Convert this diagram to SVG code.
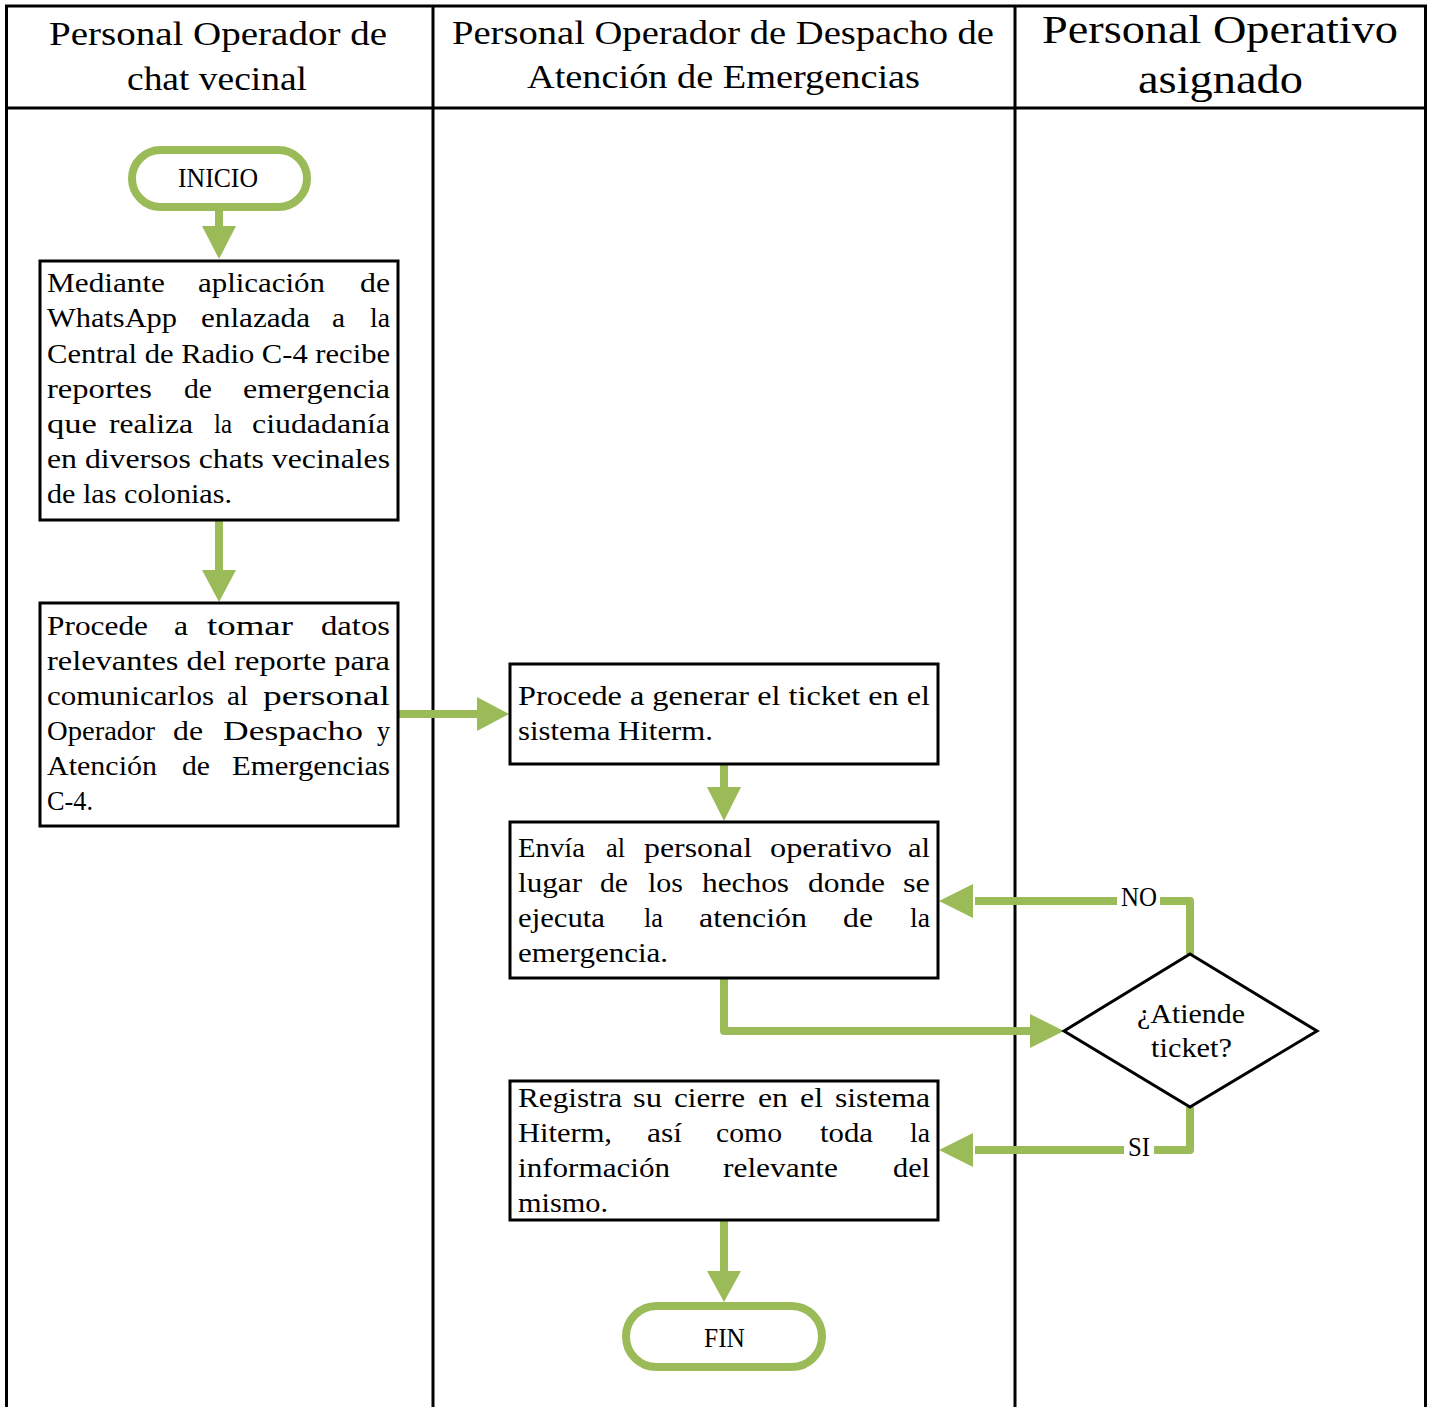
<svg xmlns="http://www.w3.org/2000/svg" width="1435" height="1407" viewBox="0 0 1435 1407">
  <style>
    .lane { fill: none; stroke: #000; stroke-width: 3; }
    .box { fill: #fff; stroke: #000; stroke-width: 3; }
    .term { fill: #fff; stroke: #9BBB59; stroke-width: 8; }
    .dec { fill: #fff; stroke: #000; stroke-width: 3; stroke-linejoin: miter; }
    .flow { fill: none; stroke: #9BBB59; stroke-width: 8; stroke-linejoin: round; }
    .head { fill: #9BBB59; }
    text { font-family: "Liberation Serif", "DejaVu Serif", serif; fill: #000; }
    .hd { font-size: 33px; }
    .hd3 { font-size: 41px; }
    .t { font-size: 28px; }
  </style>

  <rect width="1435" height="1407" fill="#fff"/>

  <!-- swimlane frame -->
  <g id="lanes">
    <path class="lane" d="M6.5,1407 V6 H1425.5 V1407 M6.5,108 H1425.5 M433,6 V1407 M1015,6 V1407"/>
    <text class="hd" x="49" y="45" textLength="338" lengthAdjust="spacingAndGlyphs">Personal Operador de</text>
    <text class="hd" x="127" y="90" textLength="180" lengthAdjust="spacingAndGlyphs">chat vecinal</text>
    <text class="hd" x="452" y="44" textLength="542" lengthAdjust="spacingAndGlyphs">Personal Operador de Despacho de</text>
    <text class="hd" x="527" y="88" textLength="393" lengthAdjust="spacingAndGlyphs">Atención de Emergencias</text>
    <text class="hd3" x="1042" y="43" textLength="356" lengthAdjust="spacingAndGlyphs">Personal Operativo</text>
    <text class="hd3" x="1138" y="93" textLength="165" lengthAdjust="spacingAndGlyphs">asignado</text>
  </g>

  <!-- connectors -->
  <g id="connectors">
    <path class="flow" d="M219,210 V228"/>
    <polygon class="head" points="202,226 236,226 219,259"/>

    <path class="flow" d="M219,520 V572"/>
    <polygon class="head" points="202,570 236,570 219,602"/>

    <path class="flow" d="M398,714 H479"/>
    <polygon class="head" points="477,697 477,731 509,714"/>

    <path class="flow" d="M724,764 V789"/>
    <polygon class="head" points="707,787 741,787 724,821"/>

    <path class="flow" d="M724,979 V1031 H1032"/>
    <polygon class="head" points="1030,1014 1030,1048 1064,1031"/>

    <path class="flow" d="M1190,954 V901 H975"/>
    <polygon class="head" points="973,884 973,918 939,901"/>

    <path class="flow" d="M1190,1107 V1150 H975"/>
    <polygon class="head" points="973,1133 973,1167 939,1150"/>

    <path class="flow" d="M724,1221 V1273"/>
    <polygon class="head" points="707,1271 741,1271 724,1302"/>

    <g id="label-no">
      <rect x="1117" y="884" width="43" height="30" fill="#fff"/>
      <text class="t" x="1121" y="906" textLength="36" lengthAdjust="spacingAndGlyphs">NO</text>
    </g>
    <g id="label-si">
      <rect x="1124" y="1134" width="30" height="30" fill="#fff"/>
      <text class="t" x="1128" y="1156" textLength="22" lengthAdjust="spacingAndGlyphs">SI</text>
    </g>
  </g>

  <!-- start -->
  <g id="inicio">
    <rect class="term" x="132" y="150" width="175" height="57" rx="28.5"/>
    <text class="t" x="178" y="187" textLength="80" lengthAdjust="spacingAndGlyphs">INICIO</text>
  </g>

  <!-- receive neighbourhood chat reports -->
  <g id="recibe-reportes">
    <rect class="box" x="40" y="261" width="358" height="259"/>
    <g class="t">
      <text x="47" y="292" textLength="118" lengthAdjust="spacingAndGlyphs">Mediante</text>
      <text x="198" y="292" textLength="127" lengthAdjust="spacingAndGlyphs">aplicación</text>
      <text x="360" y="292" textLength="30" lengthAdjust="spacingAndGlyphs">de</text>
      <text x="47" y="327" textLength="130" lengthAdjust="spacingAndGlyphs">WhatsApp</text>
      <text x="201" y="327" textLength="109" lengthAdjust="spacingAndGlyphs">enlazada</text>
      <text x="332" y="327" textLength="13" lengthAdjust="spacingAndGlyphs">a</text>
      <text x="370" y="327" textLength="20" lengthAdjust="spacingAndGlyphs">la</text>
      <text x="47" y="363" textLength="343" lengthAdjust="spacingAndGlyphs">Central de Radio C-4 recibe</text>
      <text x="47" y="398" textLength="105" lengthAdjust="spacingAndGlyphs">reportes</text>
      <text x="184" y="398" textLength="28" lengthAdjust="spacingAndGlyphs">de</text>
      <text x="243" y="398" textLength="147" lengthAdjust="spacingAndGlyphs">emergencia</text>
      <text x="47" y="433" textLength="50" lengthAdjust="spacingAndGlyphs">que</text>
      <text x="109" y="433" textLength="84" lengthAdjust="spacingAndGlyphs">realiza</text>
      <text x="214" y="433" textLength="18" lengthAdjust="spacingAndGlyphs">la</text>
      <text x="252" y="433" textLength="138" lengthAdjust="spacingAndGlyphs">ciudadanía</text>
      <text x="47" y="468" textLength="343" lengthAdjust="spacingAndGlyphs">en diversos chats vecinales</text>
      <text x="47" y="503" textLength="185" lengthAdjust="spacingAndGlyphs">de las colonias.</text>
    </g>
  </g>

  <!-- collect report data -->
  <g id="toma-datos">
    <rect class="box" x="40" y="603" width="358" height="223"/>
    <g class="t">
      <text x="47" y="635" textLength="101" lengthAdjust="spacingAndGlyphs">Procede</text>
      <text x="174" y="635" textLength="14" lengthAdjust="spacingAndGlyphs">a</text>
      <text x="207" y="635" textLength="86" lengthAdjust="spacingAndGlyphs">tomar</text>
      <text x="321" y="635" textLength="69" lengthAdjust="spacingAndGlyphs">datos</text>
      <text x="47" y="670" textLength="343" lengthAdjust="spacingAndGlyphs">relevantes del reporte para</text>
      <text x="47" y="705" textLength="167" lengthAdjust="spacingAndGlyphs">comunicarlos</text>
      <text x="227" y="705" textLength="21" lengthAdjust="spacingAndGlyphs">al</text>
      <text x="263" y="705" textLength="127" lengthAdjust="spacingAndGlyphs">personal</text>
      <text x="47" y="740" textLength="108" lengthAdjust="spacingAndGlyphs">Operador</text>
      <text x="173" y="740" textLength="30" lengthAdjust="spacingAndGlyphs">de</text>
      <text x="223" y="740" textLength="140" lengthAdjust="spacingAndGlyphs">Despacho</text>
      <text x="377" y="740" textLength="13" lengthAdjust="spacingAndGlyphs">y</text>
      <text x="47" y="775" textLength="110" lengthAdjust="spacingAndGlyphs">Atención</text>
      <text x="182" y="775" textLength="28" lengthAdjust="spacingAndGlyphs">de</text>
      <text x="232" y="775" textLength="158" lengthAdjust="spacingAndGlyphs">Emergencias</text>
      <text x="47" y="810" textLength="46" lengthAdjust="spacingAndGlyphs">C-4.</text>
    </g>
  </g>

  <!-- generate ticket -->
  <g id="genera-ticket">
    <rect class="box" x="510" y="664" width="428" height="100"/>
    <g class="t">
      <text x="518" y="705" textLength="412" lengthAdjust="spacingAndGlyphs">Procede a generar el ticket en el</text>
      <text x="518" y="740" textLength="195" lengthAdjust="spacingAndGlyphs">sistema Hiterm.</text>
    </g>
  </g>

  <!-- dispatch field staff -->
  <g id="envia-personal">
    <rect class="box" x="510" y="822" width="428" height="156"/>
    <g class="t">
      <text x="518" y="857" textLength="67" lengthAdjust="spacingAndGlyphs">Envía</text>
      <text x="606" y="857" textLength="19" lengthAdjust="spacingAndGlyphs">al</text>
      <text x="644" y="857" textLength="108" lengthAdjust="spacingAndGlyphs">personal</text>
      <text x="770" y="857" textLength="122" lengthAdjust="spacingAndGlyphs">operativo</text>
      <text x="908" y="857" textLength="22" lengthAdjust="spacingAndGlyphs">al</text>
      <text x="518" y="892" textLength="64" lengthAdjust="spacingAndGlyphs">lugar</text>
      <text x="600" y="892" textLength="28" lengthAdjust="spacingAndGlyphs">de</text>
      <text x="648" y="892" textLength="35" lengthAdjust="spacingAndGlyphs">los</text>
      <text x="702" y="892" textLength="87" lengthAdjust="spacingAndGlyphs">hechos</text>
      <text x="808" y="892" textLength="77" lengthAdjust="spacingAndGlyphs">donde</text>
      <text x="903" y="892" textLength="27" lengthAdjust="spacingAndGlyphs">se</text>
      <text x="518" y="927" textLength="87" lengthAdjust="spacingAndGlyphs">ejecuta</text>
      <text x="644" y="927" textLength="19" lengthAdjust="spacingAndGlyphs">la</text>
      <text x="699" y="927" textLength="108" lengthAdjust="spacingAndGlyphs">atención</text>
      <text x="843" y="927" textLength="30" lengthAdjust="spacingAndGlyphs">de</text>
      <text x="910" y="927" textLength="20" lengthAdjust="spacingAndGlyphs">la</text>
      <text x="518" y="962" textLength="150" lengthAdjust="spacingAndGlyphs">emergencia.</text>
    </g>
  </g>

  <!-- decision -->
  <g id="atiende-ticket">
    <polygon class="dec" points="1190,954 1317,1031 1190,1107 1064,1031"/>
    <g class="t">
      <text x="1137" y="1023" textLength="108" lengthAdjust="spacingAndGlyphs">¿Atiende</text>
      <text x="1151" y="1057" textLength="81" lengthAdjust="spacingAndGlyphs">ticket?</text>
    </g>
  </g>

  <!-- close record -->
  <g id="registra-cierre">
    <rect class="box" x="510" y="1081" width="428" height="139"/>
    <g class="t">
      <text x="518" y="1107" textLength="104" lengthAdjust="spacingAndGlyphs">Registra</text>
      <text x="633" y="1107" textLength="29" lengthAdjust="spacingAndGlyphs">su</text>
      <text x="674" y="1107" textLength="71" lengthAdjust="spacingAndGlyphs">cierre</text>
      <text x="758" y="1107" textLength="30" lengthAdjust="spacingAndGlyphs">en</text>
      <text x="800" y="1107" textLength="23" lengthAdjust="spacingAndGlyphs">el</text>
      <text x="835" y="1107" textLength="95" lengthAdjust="spacingAndGlyphs">sistema</text>
      <text x="518" y="1142" textLength="94" lengthAdjust="spacingAndGlyphs">Hiterm,</text>
      <text x="647" y="1142" textLength="35" lengthAdjust="spacingAndGlyphs">así</text>
      <text x="716" y="1142" textLength="66" lengthAdjust="spacingAndGlyphs">como</text>
      <text x="820" y="1142" textLength="53" lengthAdjust="spacingAndGlyphs">toda</text>
      <text x="910" y="1142" textLength="20" lengthAdjust="spacingAndGlyphs">la</text>
      <text x="518" y="1177" textLength="152" lengthAdjust="spacingAndGlyphs">información</text>
      <text x="723" y="1177" textLength="115" lengthAdjust="spacingAndGlyphs">relevante</text>
      <text x="893" y="1177" textLength="37" lengthAdjust="spacingAndGlyphs">del</text>
      <text x="518" y="1212" textLength="90" lengthAdjust="spacingAndGlyphs">mismo.</text>
    </g>
  </g>

  <!-- end -->
  <g id="fin">
    <rect class="term" x="626" y="1306" width="196" height="61" rx="30.5"/>
    <text class="t" x="704" y="1347" textLength="41" lengthAdjust="spacingAndGlyphs">FIN</text>
  </g>
</svg>
